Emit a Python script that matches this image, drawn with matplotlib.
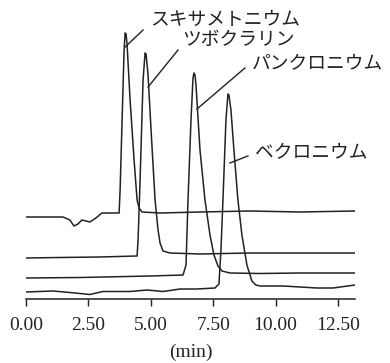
import matplotlib
matplotlib.use("Agg")
import matplotlib.pyplot as plt

# Chromatogram traces: time (min) and detector signal (arbitrary units)
# スキサメトニウム
t_sux = [0.00, 1.48, 1.76, 1.92, 2.08, 2.24, 2.40, 2.56, 2.80, 3.04, 3.73, 3.77, 3.85, 3.93, 3.97,
         4.01, 4.05, 4.17, 4.33, 4.45, 4.53, 4.65, 5.37, 6.97, 8.97, 10.98, 13.18]
y_sux = [82, 82, 79, 73, 75, 79, 78, 77, 81, 86, 86, 109, 179, 249, 266,
         265, 254, 199, 139, 99, 91, 87, 86, 87, 88, 87, 88]

# ツボクラリン
t_tub = [0.00, 1.36, 2.96, 4.45, 4.49, 4.57, 4.69, 4.77, 4.81, 4.89, 5.01, 5.17, 5.29, 5.37,
         5.49, 5.77, 6.97, 8.97, 10.98, 13.18]
y_tub = [41, 41.5, 42, 43, 59, 119, 219, 246, 245, 224, 169, 99, 69, 56,
         48, 46, 45, 46, 46, 46]

# パンクロニウム
t_pan = [0.00, 2.16, 4.97, 6.29, 6.41, 6.49, 6.61, 6.69, 6.73, 6.77, 6.81, 6.97, 7.17, 7.37,
         7.53, 7.69, 7.85, 8.17, 9.38, 10.98, 13.18]
y_pan = [21, 21.5, 23, 24, 34, 99, 179, 221, 226, 224, 214, 149, 99, 64,
         44, 33, 28, 26, 25.5, 26, 26]

# ベクロニウム
t_vec = [0.00, 1.08, 1.76, 2.16, 2.56, 3.08, 3.77, 4.17, 4.85, 5.49, 6.17, 6.85, 7.57, 7.73,
         7.81, 7.89, 8.01, 8.09, 8.13, 8.21, 8.33, 8.49, 8.65, 8.85, 9.05, 9.21, 9.38,
         10.30, 10.98, 11.66, 12.30, 13.18]
y_vec = [7, 8, 6.5, 5.5, 4.5, 7.5, 7.5, 7.5, 9, 7.5, 10, 10, 11, 15,
         49, 99, 179, 205, 204, 189, 149, 99, 64, 34, 18, 14, 13,
         13, 12, 11, 11, 14]

# peak labels: name, leader line start/end, text position
names = ["スキサメトニウム", "ツボクラリン", "パンクロニウム", "ベクロニウム"]
line_start = [(3.97, 252), (4.89, 212), (6.85, 190), (8.17, 136)]
line_end = [(4.69, 269), (6.09, 249), (8.77, 231), (8.89, 143)]
text_pos = [(4.97, 280), (6.25, 260), (9.05, 236), (9.17, 147)]

ticks = [0.0, 2.5, 5.0, 7.5, 10.0, 12.5]
tick_labels = ["0.00", "2.50", "5.00", "7.50", "10.00", "12.50"]

ink = "#222222"

fig = plt.figure(figsize=(3.9, 3.63), dpi=100)
ax = fig.add_axes([26 / 390, (363 - 299) / 363, (355 - 26) / 390, 299 / 363])

for t, y in [(t_sux, y_sux), (t_tub, y_tub), (t_pan, y_pan), (t_vec, y_vec)]:
    ax.plot(t, y, color=ink, lw=1.1, solid_joinstyle="round")

for name, p0, p1, tp in zip(names, line_start, line_end, text_pos):
    ax.plot([p0[0], p1[0]], [p0[1], p1[1]], color=ink, lw=1.0, clip_on=False)
    ax.text(tp[0], tp[1], name, ha="left", va="center", fontsize=13.5,
            family=["Noto Sans CJK JP", "DejaVu Sans"], color=ink, clip_on=False)

ax.set_xlim(0, 13.18)
ax.set_ylim(0, 299)

for s in ["top", "right", "left"]:
    ax.spines[s].set_visible(False)
ax.spines["bottom"].set_linewidth(1.1)
ax.spines["bottom"].set_color(ink)

ax.set_yticks([])
ax.set_xticks(ticks)
ax.set_xticklabels(tick_labels, family="Liberation Serif", fontsize=14, color=ink)
ax.tick_params(axis="x", direction="out", length=5, width=1.0, color=ink, pad=8)
ax.set_xlabel("(min)", family="Liberation Serif", fontsize=14, color=ink, labelpad=7)

fig.savefig("out.png", dpi=100)
